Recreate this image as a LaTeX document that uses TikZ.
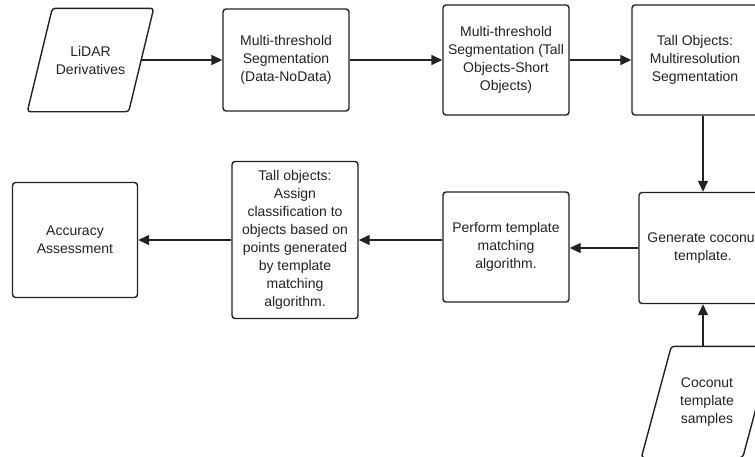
\documentclass[tikz,border=0pt]{standalone}
\usepackage{fontspec}
\setmainfont{Liberation Sans}
\usetikzlibrary{arrows.meta}
\definecolor{ink}{HTML}{222222}

\begin{document}
\begin{tikzpicture}[x=1pt,y=-1pt,
  box/.style={draw=ink,line width=1.4pt,rounded corners=3pt,align=center,text=ink,
    font=\fontsize{14}{18}\selectfont,minimum width=126pt,minimum height=110pt,inner sep=2pt},
  iobox/.style={box,draw=none,minimum width=100pt},
  outline/.style={draw=ink,line width=1.4pt,rounded corners=3pt},
  flow/.style={-{Triangle[length=11pt,width=10pt]},line width=1.4pt,draw=ink}]
  \useasboundingbox (0,0) rectangle (755,456);
  \clip (0,0) rectangle (755,456);
  % top row
  \node[iobox,minimum height=102pt] (lidar) at (90.5,60) {LiDAR\\Derivatives};
  \draw[outline] ([xshift=12.5pt]lidar.north west) -- ([xshift=12.5pt]lidar.north east)
    -- ([xshift=-12.5pt]lidar.south east) -- ([xshift=-12.5pt]lidar.south west) -- cycle;
  \node[box,minimum height=102pt] (seg1) at (286,60) {Multi-threshold\\Segmentation\\(Data-NoData)};
  \node[box] (seg2) at (506,60) {Multi-threshold\\Segmentation (Tall\\Objects-Short\\Objects)};
  \node[box] (mrs) at (695,60) {Tall Objects:\\Multiresolution\\Segmentation};
  % bottom row
  \node[box,minimum width=128pt,minimum height=111pt] (gen) at (703,248) {Generate coconut\\template.};
  \node[box] (match) at (506,247) {Perform template\\matching\\algorithm.};
  \node[box,minimum height=157pt] (assign) at (295,240) {Tall objects:\\Assign\\classification to\\objects based on\\points generated\\by template\\matching\\algorithm.};
  \node[box,minimum width=125pt,minimum height=115pt] (acc) at (75,240) {Accuracy\\Assessment};
  \node[iobox,minimum height=110pt] (samples) at (707,402) {Coconut\\template\\samples};
  \draw[outline] ([xshift=15pt]samples.north west) -- ([xshift=15pt]samples.north east)
    -- ([xshift=-15pt]samples.south east) -- ([xshift=-15pt]samples.south west) -- cycle;
  % connectors
  \draw[flow] (lidar.east) -- (seg1.west);
  \draw[flow] (seg1.east) -- (seg2.west);
  \draw[flow] (seg2.east) -- (mrs.west);
  \draw[flow] (mrs.south -| gen.north) -- (gen.north);
  \draw[flow] (gen.west) -- (match.east |- gen.west);
  \draw[flow] (assign.east -| match.west) -- (assign.east);
  \draw[flow] (assign.west) -- (acc.east);
  \draw[flow] (samples.north -| gen.south) -- (gen.south);
\end{tikzpicture}
\end{document}
